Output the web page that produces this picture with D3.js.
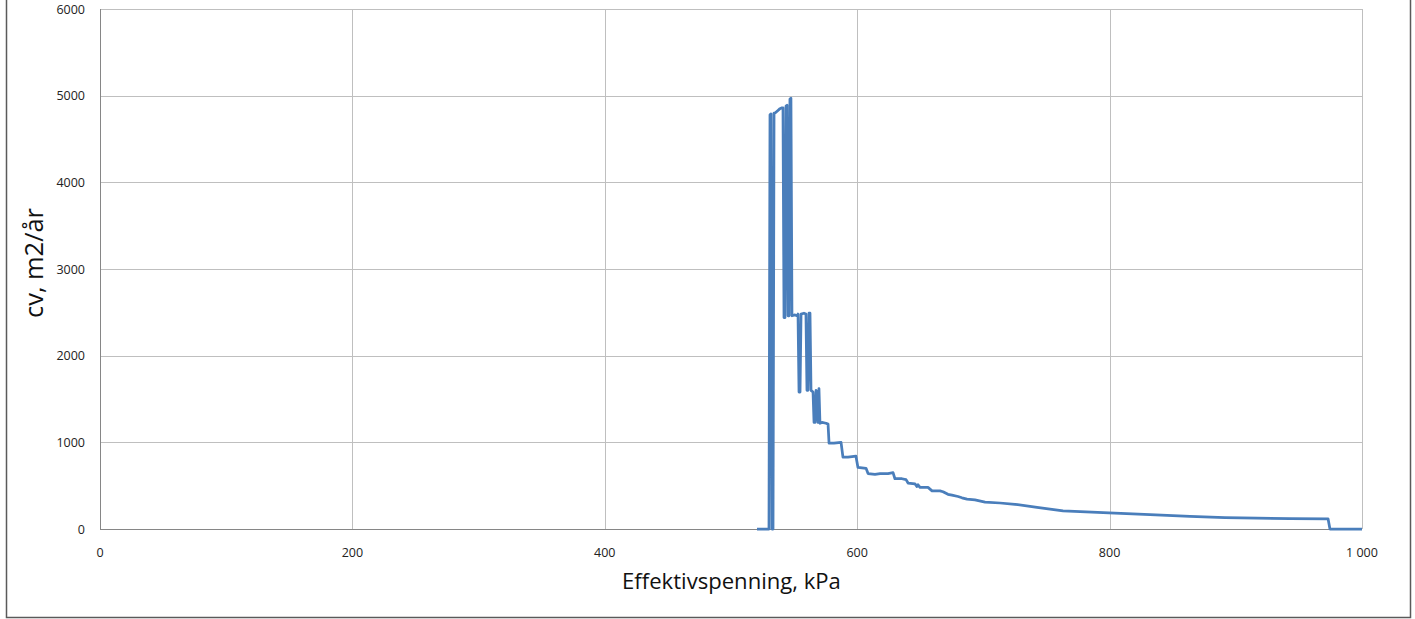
<!DOCTYPE html>
<html><head><meta charset="utf-8">
<script src="https://cdn.jsdelivr.net/npm/d3@7"></script>
<style>body{margin:0;background:#fff;}svg{display:block;}</style>
</head><body>
<script>
const stressKPa = [520.6,530.1,530.9,531.7,532.5,533.3,534.1,534.9,537.2,538.8,540.4,541.2,542.0,542.8,543.6,544.4,545.2,546.0,546.7,547.5,548.3,550.7,552.3,553.1,553.9,554.7,555.5,557.8,559.4,560.2,561.0,561.8,562.6,563.4,565.0,565.8,566.6,567.4,568.1,568.9,569.7,570.5,572.1,575.3,576.9,577.7,581.6,587.2,588.7,592.7,599.0,600.6,607.0,608.6,614.1,618.1,624.4,628.4,629.9,635.5,638.7,640.3,645.8,647.4,648.2,649.8,656.1,659.3,665.6,668.0,671.9,675.1,679.9,683.0,687.0,693.3,701.3,713.2,725.0,742.5,763.1,799.5,832.0,863.7,891.4,916.8,942.9,973.1,974.6,1000];
const cvValues = [0,0,4780,4790,0,0,4800,4800,4830,4850,4860,4860,2440,2440,4880,4890,2460,2460,4960,4970,2460,2470,2460,2480,1580,1580,2480,2490,2480,1600,1600,2490,2490,1600,1580,1230,1230,1600,1580,1230,1620,1220,1230,1220,1210,990,990,1000,830,830,840,710,700,640,630,640,640,650,580,580,570,530,520,490,510,480,480,440,440,430,400,390,375,360,345,335,310,300,285,250,210,185,165,145,132,125,120,118,0,0];
const xTicks = [0,200,400,600,800,1000];
const xTickLabels = ["0","200","400","600","800","1 000"];
const yTicks = [0,1000,2000,3000,4000,5000,6000];
const yTickLabels = ["0","1000","2000","3000","4000","5000","6000"];
const xTitle = "Effektivspenning, kPa";
const yTitle = "cv, m2/år";

const data = stressKPa.map((s,i)=>({x:s,y:cvValues[i]}));
const W=1415,H=619;
const svg=d3.select("body").append("svg").attr("width",W).attr("height",H);
const m={left:100,right:1362,top:9,bottom:529};
const x=d3.scaleLinear().domain([0,1000]).range([m.left,m.right]);
const y=d3.scaleLinear().domain([0,6000]).range([m.bottom,m.top]);
const font="'Open Sans', 'Noto Sans', sans-serif";

// outer frame
svg.append("rect").attr("x",6.5).attr("y",-5).attr("width",1404).attr("height",622.5)
  .attr("fill","none").attr("stroke","#5a5a5a").attr("stroke-width",1.5);

// gridlines
svg.append("g").selectAll("line").data(yTicks.filter(d=>d>0)).join("line")
  .attr("x1",m.left).attr("x2",m.right).attr("y1",d=>Math.round(y(d))+0.5).attr("y2",d=>Math.round(y(d))+0.5)
  .attr("stroke","#bfbfbf").attr("stroke-width",1);
svg.append("g").selectAll("line").data(xTicks.filter(d=>d>0)).join("line")
  .attr("y1",m.top).attr("y2",m.bottom).attr("x1",d=>Math.round(x(d))+0.5).attr("x2",d=>Math.round(x(d))+0.5)
  .attr("stroke","#bfbfbf").attr("stroke-width",1);

// axes lines
svg.append("line").attr("x1",m.left+0.5).attr("x2",m.left+0.5).attr("y1",m.top).attr("y2",m.bottom+0.5)
  .attr("stroke","#868686");
svg.append("line").attr("x1",m.left).attr("x2",m.right).attr("y1",m.bottom+0.5).attr("y2",m.bottom+0.5)
  .attr("stroke","#868686");

// tick labels
svg.append("g").selectAll("text").data(yTicks).join("text")
  .attr("x",85).attr("y",d=>y(d)+4.5).attr("text-anchor","end")
  .attr("font-family",font).attr("font-size",12.5).attr("fill","#222")
  .text((d,i)=>yTickLabels[i]);
svg.append("g").selectAll("text").data(xTicks).join("text")
  .attr("x",d=>x(d)).attr("y",557).attr("text-anchor","middle")
  .attr("font-family",font).attr("font-size",12.5).attr("fill","#222")
  .text((d,i)=>xTickLabels[i]);

// titles
function fit(sel, target){
  const len = sel.node().getComputedTextLength();
  const fs = parseFloat(sel.attr("font-size"));
  if(len>0) sel.attr("font-size", fs*target/len);
}
const xt = svg.append("text").attr("x",731.5).attr("y",589).attr("text-anchor","middle")
  .attr("font-family",font).attr("font-size",22).attr("fill","#111").text(xTitle);
fit(xt,219);
const yt = svg.append("text").attr("transform",`translate(43,263) rotate(-90)`)
  .attr("text-anchor","middle").attr("font-family",font).attr("font-size",22).attr("fill","#111").text(yTitle);
fit(yt,110);

// line
svg.append("path").datum(data)
  .attr("d",d3.line().x(d=>x(d.x)).y(d=>y(d.y)))
  .attr("fill","none").attr("stroke","#4a7ebb").attr("stroke-width",2.75).attr("stroke-linejoin","round");
</script>
</body></html>
